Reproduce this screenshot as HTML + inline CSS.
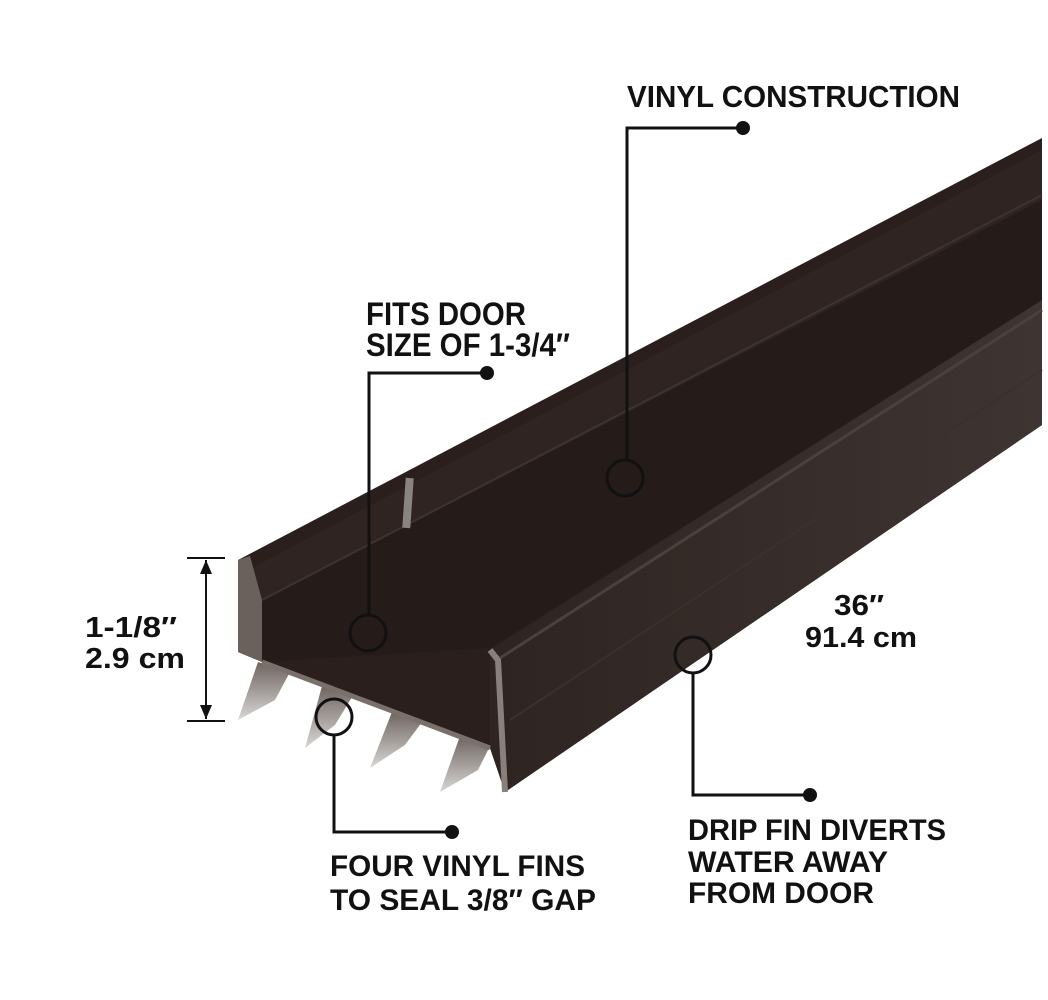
<!DOCTYPE html>
<html><head><meta charset="utf-8"><style>
html,body{margin:0;padding:0;background:#fff;}
svg{display:block;}
text{font-family:"Liberation Sans",sans-serif;font-weight:bold;fill:#111;}
</style></head><body>
<svg width="1048" height="1000" viewBox="0 0 1048 1000" xmlns="http://www.w3.org/2000/svg">
<defs>
<linearGradient id="fin" x1="0" y1="0" x2="0" y2="1">
<stop offset="0" stop-color="#6e6460"/><stop offset="1" stop-color="#d8d6d4"/>
</linearGradient>
<linearGradient id="drip" x1="0" y1="0" x2="1" y2="0">
<stop offset="0" stop-color="#2e2421"/><stop offset="1" stop-color="#3e3431"/>
</linearGradient>
</defs>
<!-- fins -->
<polygon points="258,662 290,672 275,700 238,720" fill="url(#fin)"/>
<polygon points="322,686 352,697 335,725 305,748" fill="url(#fin)"/>
<polygon points="392,712 422,722 405,745 370,768" fill="url(#fin)"/>
<polygon points="460,736 490,746 478,770 440,792" fill="url(#fin)"/>
<!-- main body -->
<polygon points="238,560 1042,138 1042,425 505,792 490,748 262,662 238,652" fill="#2a1f1c"/>
<!-- inner back wall lighter band -->
<polygon points="252,568 1042,150 1042,200 262,600" fill="#2f2421"/>
<!-- channel floor -->
<polygon points="262,600 1042,200 1042,300 490,648 262,662" fill="#251b18"/>
<!-- drip fin face -->
<polygon points="490,650 1042,300 1042,425 505,792 490,748" fill="url(#drip)"/>
<!-- edges -->
<polygon points="238,560 250,556 262,600 262,662 238,652" fill="#6a605c"/>
<polyline points="262,662 490,748" stroke="#7a706b" stroke-width="5" fill="none"/>
<polyline points="490,650 498,660 505,792" stroke="#8a807b" stroke-width="6" fill="none"/>
<line x1="500" y1="658" x2="1042" y2="310" stroke="#4a403d" stroke-width="3"/>
<line x1="262" y1="600" x2="1042" y2="195" stroke="#3d3330" stroke-width="2"/>
<line x1="510" y1="720" x2="1042" y2="370" stroke="#3a302d" stroke-width="2"/>
<rect x="404" y="478" width="8" height="50" fill="#8a8480" transform="rotate(4 408 503)"/>

<!-- leader lines -->
<g stroke="#111" stroke-width="3" fill="none">
<polyline points="743,128 627,128 627,460"/>
<circle cx="625" cy="478" r="18"/>
<polyline points="487,373 369,373 369,615"/>
<circle cx="368" cy="633" r="18"/>
<circle cx="693" cy="655" r="18"/>
<polyline points="693,673 693,795 810,795"/>
<circle cx="334" cy="717" r="18"/>
<polyline points="334,735 334,832 452,832"/>
<line x1="206" y1="560" x2="206" y2="719" stroke-width="2"/>
<line x1="187" y1="558" x2="225" y2="558" stroke-width="2"/>
<line x1="187" y1="721" x2="225" y2="721" stroke-width="2"/>
</g>
<polygon points="206,560 200,574 212,574" fill="#111"/>
<polygon points="206,719 200,705 212,705" fill="#111"/>
<g fill="#111">
<circle cx="743" cy="128" r="7"/>
<circle cx="487" cy="373" r="7"/>
<circle cx="810" cy="795" r="7"/>
<circle cx="452" cy="832" r="7"/>
</g>

<!-- text -->
<text x="627" y="107" font-size="31" textLength="333" lengthAdjust="spacingAndGlyphs">VINYL CONSTRUCTION</text>
<text x="366" y="325" font-size="32" textLength="160" lengthAdjust="spacingAndGlyphs">FITS DOOR</text>
<text x="366" y="356" font-size="32" textLength="204" lengthAdjust="spacingAndGlyphs">SIZE OF 1-3/4″</text>
<text x="85" y="637" font-size="29" textLength="92" lengthAdjust="spacingAndGlyphs">1-1/8″</text>
<text x="85" y="668" font-size="29" textLength="100" lengthAdjust="spacingAndGlyphs">2.9 cm</text>
<text x="834" y="615" font-size="29" textLength="50" lengthAdjust="spacingAndGlyphs">36″</text>
<text x="805" y="647" font-size="29" textLength="112" lengthAdjust="spacingAndGlyphs">91.4 cm</text>
<text x="688" y="840" font-size="30" textLength="258" lengthAdjust="spacingAndGlyphs">DRIP FIN DIVERTS</text>
<text x="688" y="872" font-size="30" textLength="200" lengthAdjust="spacingAndGlyphs">WATER AWAY</text>
<text x="688" y="903" font-size="30" textLength="186" lengthAdjust="spacingAndGlyphs">FROM DOOR</text>
<text x="330" y="876" font-size="30" textLength="255" lengthAdjust="spacingAndGlyphs">FOUR VINYL FINS</text>
<text x="330" y="910" font-size="30" textLength="266" lengthAdjust="spacingAndGlyphs">TO SEAL 3/8″ GAP</text>
</svg>
</body></html>
